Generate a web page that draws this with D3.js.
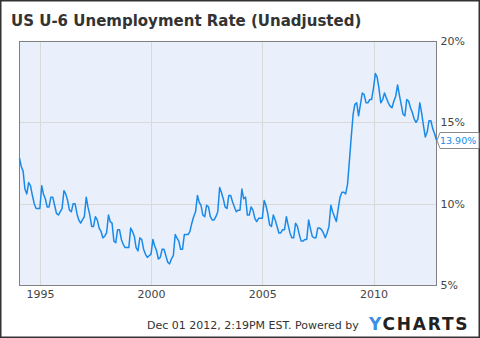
<!DOCTYPE html>
<html>
<head>
<meta charset="utf-8">
<script src="https://cdnjs.cloudflare.com/ajax/libs/d3/7.8.5/d3.min.js"></script>
<style>
  body { margin: 0; background: #fff; }
  svg text { font-family: "DejaVu Sans", Verdana, sans-serif; }
  .grid line { stroke: #d9d9d9; stroke-width: 1; shape-rendering: crispEdges; }
  .grid .domain { display: none; }
  .grid text { fill: #444; font-size: 11px; }
</style>
</head>
<body>
<svg id="myGraph" width="480" height="338"></svg>
<script>
// monthly U-6 (not seasonally adjusted), starting Jan 1994, in %
var startYear = 1994;
var u6_1994 = [12.8, 12.3, 12.0, 10.9, 10.6, 11.3, 11.1, 10.5, 10.0, 9.7, 9.7, 9.7];
var u6_1995 = [11.1, 10.6, 10.3, 9.8, 9.8, 10.4, 10.4, 9.9, 9.4, 9.3, 9.5, 9.7];
var u6_1996 = [10.8, 10.6, 10.2, 9.6, 9.5, 10.0, 10.0, 9.4, 9.0, 8.8, 9.0, 9.2];
var u6_1997 = [10.4, 9.8, 9.3, 8.6, 8.6, 9.2, 9.0, 8.5, 8.3, 7.9, 8.0, 8.2];
var u6_1998 = [9.3, 8.9, 8.8, 7.7, 7.6, 8.4, 8.4, 7.8, 7.5, 7.3, 7.3, 7.3];
var u6_1999 = [8.5, 8.3, 8.0, 7.3, 7.1, 7.9, 7.8, 7.2, 6.9, 6.7, 6.8, 6.9];
var u6_2000 = [7.8, 7.4, 7.1, 6.6, 6.7, 7.2, 7.2, 6.8, 6.4, 6.3, 6.6, 6.8];
var u6_2001 = [8.1, 7.9, 7.7, 7.2, 7.2, 8.1, 8.1, 8.1, 8.3, 8.8, 9.2, 9.5];
var u6_2002 = [10.5, 10.1, 9.9, 9.3, 9.2, 9.9, 9.8, 9.2, 9.0, 9.0, 9.2, 9.5];
var u6_2003 = [11.0, 10.7, 10.3, 9.8, 9.7, 10.5, 10.5, 10.1, 9.8, 9.5, 9.6, 9.6];
var u6_2004 = [10.9, 10.3, 10.4, 9.3, 9.3, 9.8, 9.6, 9.1, 8.9, 9.1, 9.1, 9.1];
var u6_2005 = [10.2, 9.9, 9.4, 8.7, 8.6, 9.3, 9.0, 8.6, 8.2, 8.2, 8.4, 8.4];
var u6_2006 = [9.2, 8.7, 8.2, 7.9, 7.9, 8.8, 8.6, 8.1, 7.7, 7.7, 7.8, 7.8];
var u6_2007 = [9.0, 8.5, 8.0, 7.9, 7.9, 8.5, 8.5, 8.4, 8.2, 7.9, 8.2, 8.6];
var u6_2008 = [9.9, 9.5, 9.2, 8.9, 9.7, 10.4, 10.7, 10.7, 10.6, 11.2, 12.6, 14.1];
var u6_2009 = [15.5, 16.1, 16.2, 15.4, 16.1, 16.8, 16.7, 16.2, 16.2, 16.4, 16.4, 17.1];
var u6_2010 = [18.0, 17.8, 17.1, 16.2, 16.4, 16.8, 16.5, 16.2, 16.0, 15.9, 16.3, 16.6];
var u6_2011 = [17.3, 16.7, 16.1, 15.5, 15.4, 16.4, 16.3, 15.9, 15.6, 15.2, 15.0, 15.2];
var u6_2012 = [16.2, 15.6, 14.8, 14.1, 14.4, 15.1, 15.1, 14.6, 14.3, 13.9];

var xTickYears = [1995, 2000, 2005, 2010];
var yTicks = [5, 10, 15, 20];
var titleText = "US U-6 Unemployment Rate (Unadjusted)";
var footerText = "Dec 01 2012, 2:19PM EST. Powered by";

window.addEventListener("load", function(){
	var svg = d3.select("#myGraph");
	var left = 19.5, right = 436.5, top = 41, bottom = 285;	// plot box

	// join the years, each value dated at month end
	var yearly = [u6_1994, u6_1995, u6_1996, u6_1997, u6_1998, u6_1999, u6_2000,
		u6_2001, u6_2002, u6_2003, u6_2004, u6_2005, u6_2006, u6_2007, u6_2008,
		u6_2009, u6_2010, u6_2011, u6_2012];
	var dataSet = [];
	yearly.forEach(function(arr, yi){
		arr.forEach(function(v, m){
			dataSet.push({ date: new Date(startYear + yi, m + 1, 0), value: v });
		});
	});
	var last = dataSet[dataSet.length - 1];

	var xScale = d3.scaleTime()
		.domain([dataSet[0].date, last.date])
		.range([left, right]);
	var yScale = d3.scaleLinear()
		.domain([5, 20])
		.range([bottom, top]);

	// outer frame
	svg.append("rect")
		.attr("x", 0.75).attr("y", 0.75)
		.attr("width", 478.5).attr("height", 336.5)
		.attr("fill", "#fff").attr("stroke", "#333").attr("stroke-width", 1.5);

	// plot background
	svg.append("rect")
		.attr("x", left).attr("y", top)
		.attr("width", right - left).attr("height", bottom - top)
		.attr("fill", "#e9effb");

	// vertical grid + year labels
	svg.append("g")
		.attr("class", "grid")
		.attr("transform", "translate(0," + bottom + ")")
		.call(d3.axisBottom(xScale)
			.tickValues(xTickYears.map(function(y){ return new Date(y, 0, 1); }))
			.tickFormat(d3.timeFormat("%Y"))
			.tickSize(-(bottom - top))
			.tickPadding(5.5));

	// horizontal grid + % labels on the right
	svg.append("g")
		.attr("class", "grid")
		.attr("transform", "translate(" + right + ",0)")
		.call(d3.axisRight(yScale)
			.tickValues(yTicks)
			.tickFormat(function(d){ return d + "%"; })
			.tickSize(-(right - left))
			.tickPadding(4));

	// plot border
	svg.append("rect")
		.attr("x", left).attr("y", top + 0.5)
		.attr("width", right - left).attr("height", bottom - top - 0.5)
		.attr("fill", "none").attr("stroke", "#808080").attr("stroke-width", 1)
		.attr("shape-rendering", "crispEdges");

	// the series
	var line = d3.line()
		.x(function(d){ return xScale(d.date); })
		.y(function(d){ return yScale(d.value); });
	svg.append("path")
		.datum(dataSet)
		.attr("d", line)
		.attr("fill", "none")
		.attr("stroke", "#1a8ae8")
		.attr("stroke-width", 1.5)
		.attr("stroke-linejoin", "round");

	// last value flag
	var ly = Math.round(yScale(last.value)) + 0.5;
	var lx = right + 0.5;
	svg.append("path")
		.attr("d", "M" + lx + "," + ly + " L" + (lx + 3) + "," + (ly - 8) + " H479 V" + (ly + 8) + " H" + (lx + 3) + " Z")
		.attr("fill", "#fff").attr("stroke", "#8a8a8a").attr("stroke-width", 1);
	svg.append("text")
		.attr("x", lx + 3).attr("y", ly)
		.attr("dy", "0.35em")
		.attr("fill", "#1a8ae8")
		.attr("font-size", "9.5px")
		.text(last.value.toFixed(2) + "%");

	// title
	svg.append("text")
		.attr("x", 11).attr("y", 25.5)
		.attr("fill", "#333")
		.attr("font-size", "15px")
		.attr("font-weight", "bold")
		.text(titleText);

	// footer
	svg.append("text")
		.attr("x", 147).attr("y", 328.5)
		.attr("fill", "#333")
		.attr("font-size", "11px")
		.text(footerText);
	var logo = svg.append("text")
		.attr("x", 369).attr("y", 330)
		.attr("font-size", "17px")
		.attr("font-weight", "bold")
		.attr("letter-spacing", "1.8px");
	logo.append("tspan").attr("fill", "#3c8ee6").text("Y");
	logo.append("tspan").attr("fill", "#222").text("CHARTS");
});
</script>
</body>
</html>
